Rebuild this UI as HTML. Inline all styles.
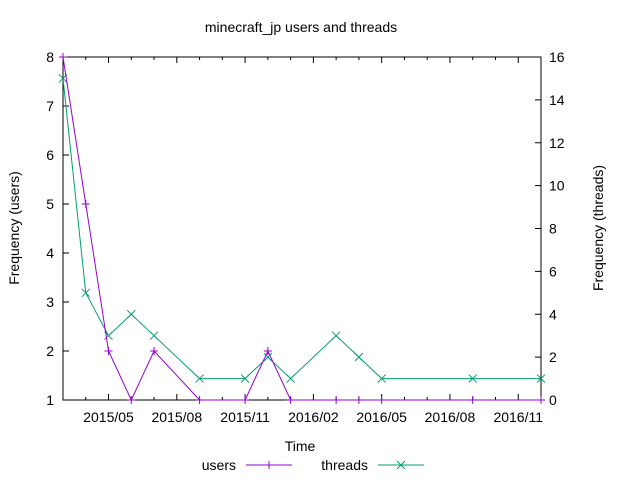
<!DOCTYPE html>
<html><head><meta charset="utf-8"><style>body{margin:0;background:#fff}svg{display:block;font-family:"Liberation Sans",sans-serif;font-size:14px}</style></head>
<body>
<svg id="c" width="640" height="480">
<rect x="63" y="57" width="478" height="343" fill="none" stroke="#000"/>
<text x="301" y="32" text-anchor="middle">minecraft_jp users and threads</text>
<text x="300" y="451" text-anchor="middle">Time</text>
<text transform="translate(19,228) rotate(-90)" text-anchor="middle">Frequency (users)</text>
<text transform="translate(603,228) rotate(-90)" text-anchor="middle">Frequency (threads)</text>
<g>
<text x="236" y="470" text-anchor="end">users</text>
<line x1="246" y1="465" x2="292" y2="465" stroke="#9400d3"/>
<text x="368" y="470" text-anchor="end">threads</text>
<line x1="378" y1="465" x2="424" y2="465" stroke="#009e73"/>
</g>
<g id="g"></g>
</svg>
<script>
const monthIdx=[0,1,2,3,4,6,8,9,10,12,13,14,18,21];
const users=[8,5,2,1,2,1,1,2,1,1,1,1,1,1];
const threads=[15,5,3,4,3,1,1,2,1,3,2,1,1,1];
const xLabels=["2015/05","2015/08","2015/11","2016/02","2016/05","2016/08","2016/11"];
const leftTicks=[1,2,3,4,5,6,7,8];
const rightTicks=[0,2,4,6,8,10,12,14,16];
const L=63,R=541,T=57,B=400;
const x=i=>L+i*(R-L)/21;
const yl=v=>B-(v-1)*(B-T)/7;
const yr=v=>B-v*(B-T)/16;
const g=document.getElementById('g');
const NS='http://www.w3.org/2000/svg';
function mk(t,a){const e=document.createElementNS(NS,t);for(const k in a)e.setAttribute(k,a[k]);g.appendChild(e);return e;}
leftTicks.forEach(v=>{const y=yl(v);
 const l=mk('line',{x1:L,y1:y,x2:L+6,y2:y,stroke:'#000'});
 
 
 const t=mk('text',{x:L-9,y:y+5,'text-anchor':'end'});t.textContent=v;
 
 });
rightTicks.forEach(v=>{const y=yr(v);
 const l=mk('line',{x1:R-6,y1:y,x2:R,y2:y,stroke:'#000'});
 
 
 const t=mk('text',{x:R+8,y:y+5});t.textContent=v;
 
 });
for(let i=0;i<=21;i++){const xx=x(i);const big=(i%3==2);const h=big?6:3;
 const l=mk('line',{x1:xx,y1:B,x2:xx,y2:B-h,stroke:'#000'});
 
 
 const l2=mk('line',{x1:xx,y1:T,x2:xx,y2:T+h,stroke:'#000'});
 
 
 if(big){const t=mk('text',{x:xx,y:B+22,'text-anchor':'middle'});t.textContent=xLabels[(i-2)/3];
 
 }}
function series(vals,yf,col,plus,name){
 const p=mk('polyline',{points:vals.map((v,k)=>x(monthIdx[k])+','+yf(v)).join(' '),fill:'none',stroke:col});
 
 
 vals.forEach((v,k)=>{const cx=x(monthIdx[k]),cy=yf(v),s=4;
  const d=plus?`M${cx-s},${cy}H${cx+s}M${cx},${cy-s}V${cy+s}`:`M${cx-s},${cy-s}L${cx+s},${cy+s}M${cx-s},${cy+s}L${cx+s},${cy-s}`;
  const m=mk('path',{d:d,stroke:col,fill:'none'});
  
  });
}
series(threads,yr,'#009e73',false,'threads');
series(users,yl,'#9400d3',true,'users');
[[269,true,'#9400d3'],[401,false,'#009e73']].forEach(([cx,plus,col])=>{const cy=465,s=4;
 const d=plus?`M${cx-s},${cy}H${cx+s}M${cx},${cy-s}V${cy+s}`:`M${cx-s},${cy-s}L${cx+s},${cy+s}M${cx-s},${cy+s}L${cx+s},${cy-s}`;
 const m=mk('path',{d:d,stroke:col,fill:'none'});
 
 });
</script>
</body></html>
